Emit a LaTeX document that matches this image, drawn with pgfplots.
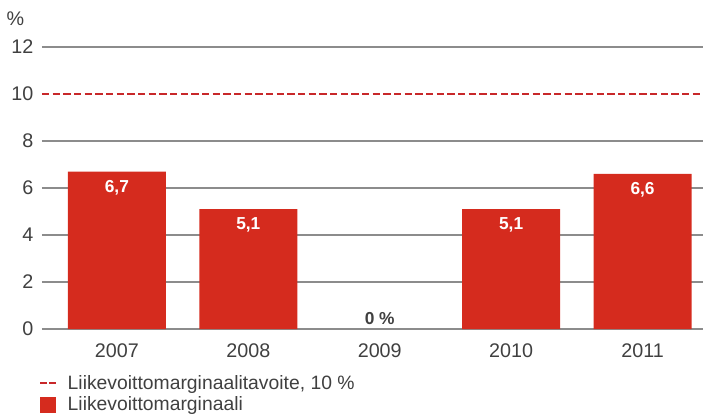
\documentclass[border=0pt]{standalone}
\usepackage{fontspec}
\setmainfont{Liberation Sans}
\usepackage{pgfplots}
\pgfplotsset{compat=1.18}
\definecolor{barred}{HTML}{D52B1E}
\definecolor{linered}{HTML}{C8282A}
\definecolor{gridgray}{HTML}{8C8C8C}
\definecolor{txt}{HTML}{404040}
\begin{document}
\begin{tikzpicture}
\useasboundingbox (0,0) rectangle (534.75pt,314.25pt);
\begin{axis}[
  at={(31.5pt,67.5pt)}, anchor=south west,
  scale only axis, width=495.75pt, height=211.5pt,
  xmin=-0.57, xmax=4.46, ymin=0, ymax=12,
  xtick={0,1,2,3,4}, xticklabels={2007,2008,2009,2010,2011},
  ytick={0,2,4,6,8,12},
  extra y ticks={10}, extra y tick style={grid=none},
  ymajorgrids, grid style={gridgray, line width=0.9pt},
  axis line style={draw=none},
  major tick length=0pt,
  /pgf/number format/assume math mode=true,
  tick label style={font=\fontsize{14.8}{17}\selectfont, text=txt},
  yticklabel style={xshift=-3pt},
  xticklabel style={yshift=-7.5pt},
  legend style={draw=none, fill=none, at={(0,0)}, anchor=north west, xshift=-5.5pt, yshift=-30.5pt,
    font=\fontsize{14.5}{16.5}\selectfont, text=txt, cells={anchor=west}, row sep=0pt},
  legend cell align=left,
  clip=false,
]
\addplot[linered, line width=1.6pt, dash pattern=on 5.5pt off 2.5pt,
  legend image code/.code={\draw[linered, line width=1.6pt, dash pattern=on 5pt off 2pt] (0pt,0pt) -- (12pt,0pt); \path (18pt,0pt);}]
  coordinates {(-0.57,10) (4.46,10)};
\addlegendentry{Liikevoittomarginaalitavoite, 10 \%}
\addplot[ybar, bar width=0.745, fill=barred, draw=none,
  legend image code/.code={\fill[barred] (0pt,-6pt) rectangle (12pt,6pt); \path (18pt,0pt);},
  nodes near coords,
  nodes near coords style={anchor=north, yshift=-3pt, text=white, font=\bfseries\fontsize{13}{15}\selectfont,
    /pgf/number format/.cd, use comma, fixed, fixed zerofill, precision=1, assume math mode=true}]
  coordinates {(0,6.7) (1,5.1) (3,5.1) (4,6.6)};
\addlegendentry{Liikevoittomarginaali}
\addplot[draw=none, forget plot, point meta=explicit symbolic, nodes near coords,
  nodes near coords style={anchor=south, yshift=0pt, text=txt, font=\bfseries\fontsize{13}{15}\selectfont}]
  coordinates {(2,0) [0 \%]};
\node[text=txt, font=\fontsize{14.8}{17}\selectfont] at (rel axis cs:0,1) [xshift=-20pt, yshift=21pt] {\%};
\end{axis}
\end{tikzpicture}
\end{document}
